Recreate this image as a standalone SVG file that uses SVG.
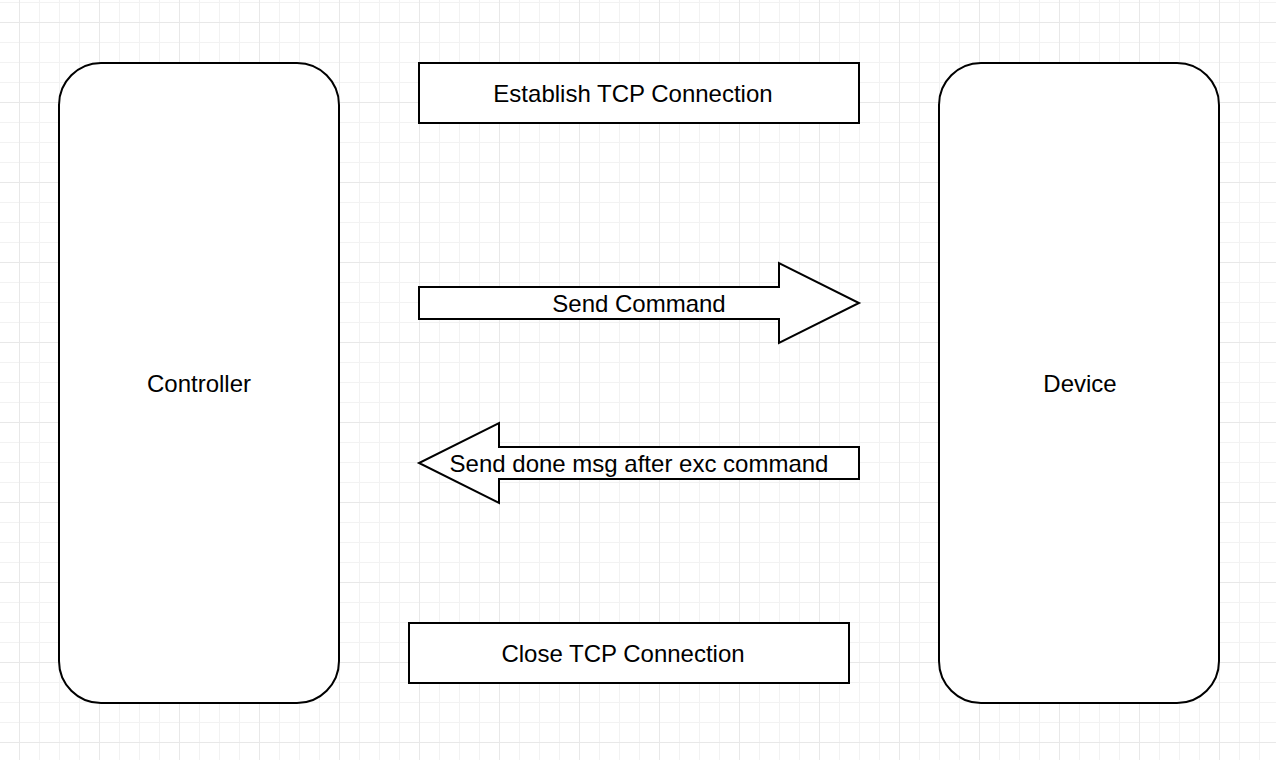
<svg xmlns="http://www.w3.org/2000/svg" width="1276" height="760" viewBox="0 0 1276 760">
  <style>
    .shape { fill: #ffffff; stroke: #000000; stroke-width: 2; }
    .label { font-family: "Liberation Sans", Arial, Helvetica, sans-serif; font-size: 24px; fill: #000000; text-anchor: middle; dominant-baseline: central; }
  </style>
  <defs>
    <pattern id="minor" x="19" y="2" width="20" height="20" patternUnits="userSpaceOnUse">
      <path d="M0.5 0 V20 M0 0.5 H20" stroke="#f2f2f2" stroke-width="1" fill="none"/>
    </pattern>
    <pattern id="major" x="19" y="22" width="80" height="80" patternUnits="userSpaceOnUse">
      <path d="M0.5 0 V80 M0 0.5 H80" stroke="#e8e8e8" stroke-width="1" fill="none"/>
    </pattern>
  </defs>
  <rect width="1276" height="760" fill="#ffffff"/>
  <rect width="1276" height="760" fill="url(#minor)"/>
  <rect width="1276" height="760" fill="url(#major)"/>

  <g id="controller">
    <rect class="shape" x="59" y="63" width="280" height="640" rx="42" ry="42"/>
    <text class="label" x="199" y="383">Controller</text>
  </g>
  <g id="device">
    <rect class="shape" x="939" y="63" width="280" height="640" rx="42" ry="42"/>
    <text class="label" x="1080" y="383">Device</text>
  </g>
  <g id="establish">
    <rect class="shape" x="419" y="63" width="440" height="60"/>
    <text class="label" x="633" y="93">Establish TCP Connection</text>
  </g>
  <g id="close">
    <rect class="shape" x="409" y="623" width="440" height="60"/>
    <text class="label" x="623" y="653">Close TCP Connection</text>
  </g>
  <g id="connectors">
    <g id="send-command">
      <path class="shape" d="M419 287 H779 V263 L859 303 L779 343 V319 H419 Z"/>
      <text class="label" x="639" y="303">Send Command</text>
    </g>
    <g id="send-done">
      <path class="shape" d="M859 447 H499 V423 L419 463 L499 503 V479 H859 Z"/>
      <text class="label" x="639" y="463">Send done msg after exc command</text>
    </g>
  </g>
</svg>
